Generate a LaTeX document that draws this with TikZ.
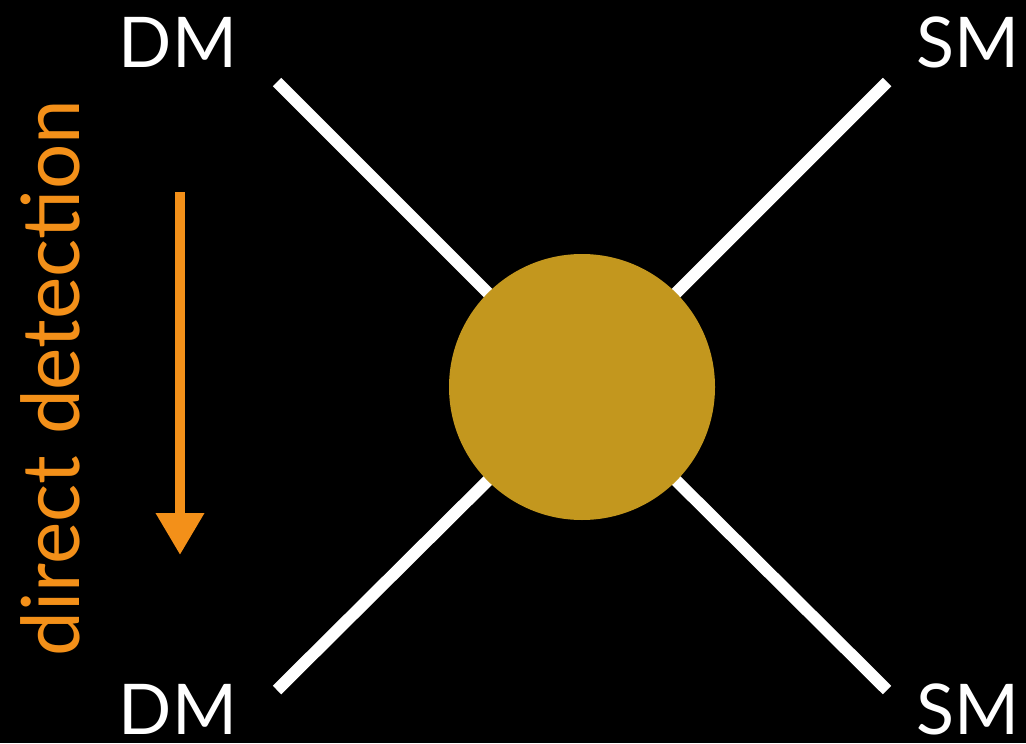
\documentclass[tikz,border=0pt]{standalone}
\usepackage{fontspec}
\setmainfont{Lato}
\usetikzlibrary{arrows.meta}
\definecolor{blobgold}{HTML}{C3971E}
\definecolor{ddorange}{HTML}{F39019}
\tikzset{
	particle/.style={text=white, inner sep=0pt, font=\fontsize{35}{40}\selectfont},
	leg/.style={draw=white, line width=6pt},
}
\begin{document}
\begin{tikzpicture}[x=0.5pt, y=-0.5pt]
		\fill[black] (0,0) rectangle (1026,743);
		\useasboundingbox (0,0) rectangle (1026,743);
		% vertex and legs
		\coordinate (vertex) at (582,387);
		\coordinate (dmin) at (277,82);
		\coordinate (dmout) at (277,690);
		\coordinate (smin) at (887,82);
		\coordinate (smout) at (887,690);
		\draw[leg] (dmin) -- (vertex);
		\draw[leg] (dmout) -- (vertex);
		\draw[leg] (smin) -- (vertex);
		\draw[leg] (smout) -- (vertex);
		\node (blob) [circle, fill=blobgold, minimum size=133pt, inner sep=0pt] at (vertex) {};
		% labels
		\node (dmtop) [particle] at (178,42) {DM};
		\node (smtop) [particle] at (968,42) {SM};
		\node (dmbot) [particle] at (178,709) {DM};
		\node (smbot) [particle] at (968,709) {SM};
		% direct detection
		\coordinate (ddstart) at (180,192);
		\coordinate (ddend) at (180,555);
		\draw[ddorange, line width=5pt, -{Triangle[length=21pt, width=23pt]}] (ddstart) -- (ddend);
		\node (ddlabel) [text=ddorange, rotate=90, inner sep=0pt, font=\fontsize{40}{44}\selectfont] at (50,378) {direct detection};
	\end{tikzpicture}
\end{document}
